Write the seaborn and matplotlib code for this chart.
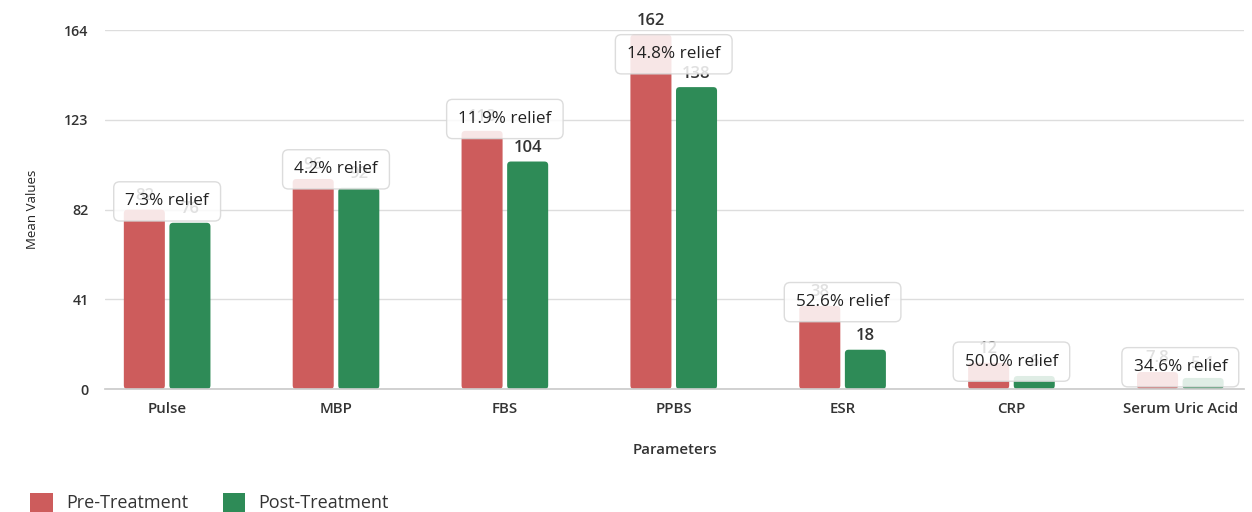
import matplotlib
matplotlib.use("Agg")
import matplotlib.pyplot as plt
from matplotlib.patches import FancyBboxPatch, Patch
import seaborn as sns
import pandas as pd

categories = ["Pulse", "MBP", "FBS", "PPBS", "ESR", "CRP", "Serum Uric Acid"]
pre_values = [82, 96, 118, 162, 38, 12, 7.8]
post_values = [76, 92, 104, 138, 18, 6, 5.1]
pre_labels = ["82", "96", "118", "162", "38", "12", "7.8"]
post_labels = ["76", "92", "104", "138", "18", "6", "5.1"]
relief_labels = ["7.3% relief", "4.2% relief", "11.9% relief", "14.8% relief",
                 "52.6% relief", "50.0% relief", "34.6% relief"]
y_ticks = [0, 41, 82, 123, 164]
series_names = ["Pre-Treatment", "Post-Treatment"]

RED = "#CD5C5C"
GREEN = "#2E8B57"

sns.set_theme(style="white")
plt.rcParams["font.family"] = ["Open Sans", "DejaVu Sans"]

df = pd.DataFrame({
    "Parameter": categories * 2,
    "Value": pre_values + post_values,
    "Series": [series_names[0]] * len(categories) + [series_names[1]] * len(categories),
})

fig = plt.figure(figsize=(12.52, 5.12), dpi=100)
ax = fig.add_axes([0.084, 0.240, 0.910, 0.701])

sns.barplot(data=df, x="Parameter", y="Value", hue="Series",
            palette=[RED, GREEN], width=0.54, gap=0.1, ax=ax,
            legend=False, errorbar=None, saturation=1)

ax.set_xlim(-0.367, 6.38)
ax.set_ylim(0, 164)
ax.set_yticks(y_ticks)
ax.set_yticklabels([str(t) for t in y_ticks])
for sp in ["top", "right", "left"]:
    ax.spines[sp].set_visible(False)
ax.spines["bottom"].set_color("#cccccc")
ax.yaxis.grid(True, color="#dddddd", linewidth=1)
ax.set_axisbelow(True)
ax.tick_params(axis="x", length=5, color="#cccccc", pad=4, labelsize=10.8, labelcolor="#333333")
ax.tick_params(axis="y", length=0, pad=12, labelsize=10.3, labelcolor="#333333")
for lab in ax.get_xticklabels() + ax.get_yticklabels():
    lab.set_fontweight("semibold")
ax.set_xlabel("Parameters", fontsize=10.8, fontweight="semibold", color="#333333", labelpad=20)
ax.set_ylabel("Mean Values", fontsize=9.5, color="#222222", labelpad=18)

# rounded bars
aspect = (164 / (0.701 * 512)) / (6.747 / (0.910 * 1252))
for cont, labels in zip(ax.containers, [pre_labels, post_labels]):
    for bar, lab in zip(cont, labels):
        x, y = bar.get_x(), bar.get_y()
        w, h = bar.get_width(), bar.get_height()
        bar.set_visible(False)
        fb = FancyBboxPatch((x, y), w, h,
                            boxstyle="round,pad=0,rounding_size=0.022",
                            mutation_aspect=aspect,
                            facecolor=bar.get_facecolor(), edgecolor="none", zorder=2)
        ax.add_patch(fb)
        ax.annotate(lab, (x + w / 2, y + h), xytext=(0, 4), textcoords="offset points",
                    ha="center", va="bottom", fontsize=12, fontweight="semibold",
                    color="#333333", zorder=3, annotation_clip=False)

# relief annotation boxes
for i, (pre, txt) in enumerate(zip(pre_values, relief_labels)):
    yb = min(max(pre * 1.046, 10.0), 153)
    ax.text(i, yb, txt, ha="center", va="center", fontsize=12.3, color="#222222",
            zorder=5,
            bbox=dict(boxstyle="round,pad=0.68,rounding_size=0.35", facecolor="white",
                      edgecolor="#d6d6d6", alpha=0.85, linewidth=1))

handles = [Patch(facecolor=RED, edgecolor="none"), Patch(facecolor=GREEN, edgecolor="none")]
fig.legend(handles, series_names, loc="center left", bbox_to_anchor=(0.011, 0.018),
           ncol=2, frameon=False, fontsize=13, handlelength=1.25, handleheight=1.2,
           columnspacing=1.9, handletextpad=0.75, labelcolor="#333333")

fig.savefig("out.png", dpi=100)
